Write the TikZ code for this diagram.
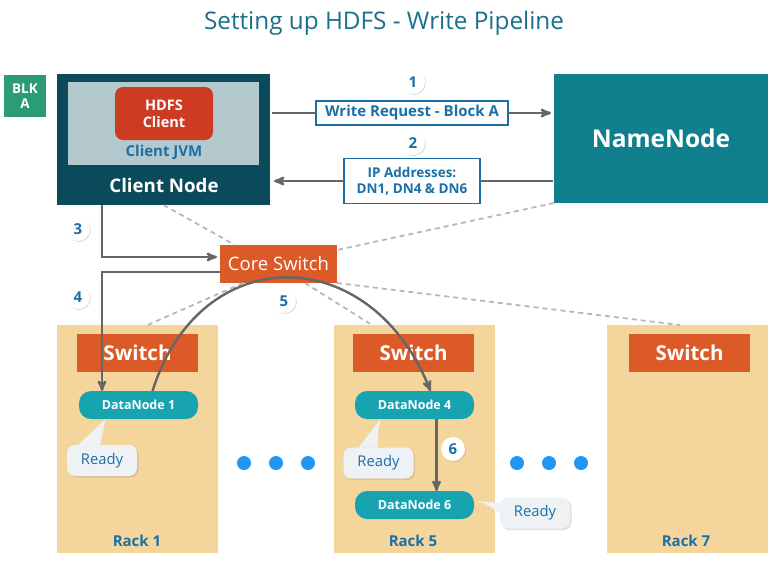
\documentclass[tikz,border=0pt]{standalone}
\usepackage{fontspec}
\setmainfont{Open Sans}
\usetikzlibrary{arrows,shadows}

\definecolor{titleblue}{HTML}{1B6F8C}
\definecolor{clientdark}{HTML}{0B4A5B}
\definecolor{jvmgray}{HTML}{B3C9CD}
\definecolor{hdfsred}{HTML}{CD3B23}
\definecolor{textblue}{HTML}{1A6FA8}
\definecolor{nnteal}{HTML}{0F7F8D}
\definecolor{switchorange}{HTML}{DC5A27}
\definecolor{racksand}{HTML}{F4D69C}
\definecolor{dnteal}{HTML}{17A3B0}
\definecolor{bubblegray}{HTML}{EEF2F4}
\definecolor{dotblue}{HTML}{2196F3}
\definecolor{flowgray}{HTML}{666666}
\definecolor{dashgray}{HTML}{B5B8BA}
\definecolor{blkgreen}{HTML}{2B9B78}

\begin{document}
\begin{tikzpicture}[x=1pt,y=-1pt,>=stealth',
  box/.style={rectangle,inner sep=0pt,outer sep=0pt},
  rack/.style={box,fill=racksand,minimum width=161pt,minimum height=228pt},
  rack switch/.style={box,fill=switchorange,minimum width=121pt,minimum height=38pt,
    text=white,font=\fontsize{20.5}{22}\selectfont\bfseries},
  data node/.style={box,fill=dnteal,minimum width=119pt,minimum height=28pt,rounded corners=12pt,
    text=white,font=\fontsize{12.5}{14}\selectfont\bfseries},
  ready/.style={box,fill=bubblegray,minimum width=70pt,minimum height=31pt,rounded corners=8pt,
    text=textblue,font=\fontsize{14.8}{16}\selectfont,drop shadow={opacity=0.25,shadow xshift=1.5pt,shadow yshift=-1.5pt}},
  step num/.style={circle,fill=white,minimum size=24pt,inner sep=0pt,text=textblue,
    font=\fontsize{15}{16}\selectfont\bfseries,drop shadow={opacity=0.25,shadow xshift=1pt,shadow yshift=-1pt}},
  msg/.style={box,fill=white,draw=textblue,line width=1.3pt,text=textblue,align=center,
    font=\fontsize{13.5}{16.5}\selectfont\bfseries},
  rack label/.style={text=textblue,font=\fontsize{15}{17}\selectfont\bfseries},
  flow/.style={draw=flowgray,line width=2.4pt},
  link/.style={draw=dashgray,line width=1.8pt,dash pattern=on 5pt off 4pt},
  dot/.style={circle,fill=dotblue,minimum size=14pt,inner sep=0pt}]

  \useasboundingbox (0,0) rectangle (768,560);

  \node (title) at (384,23) {\fontsize{24.3}{28}\selectfont\color{titleblue}Setting up HDFS - Write Pipeline};

  % client side
  \node[box,fill=blkgreen,minimum width=42pt,minimum height=42pt,text=white,align=center,
    font=\fontsize{13.5}{15}\selectfont\bfseries] (blk) at (25,96) {BLK\\A};
  \node[box,fill=clientdark,minimum width=213pt,minimum height=131pt] (client) at (163.5,139.5) {};
  \node[box,fill=jvmgray,minimum width=191pt,minimum height=83pt] (jvm) at (163.5,123.5) {};
  \node[box,fill=hdfsred,minimum width=98pt,minimum height=53pt,rounded corners=8pt,text=white,
    align=center,font=\fontsize{14.5}{17}\selectfont\bfseries] (hdfs) at (164,113.5) {HDFS\\Client};
  \node[text=textblue,font=\fontsize{15}{17}\selectfont\bfseries] (jvmlabel) at (164,152) {Client JVM};
  \node[text=white,font=\fontsize{18.7}{21}\selectfont\bfseries] (clientlabel) at (164,185) {Client Node};

  \node[box,fill=nnteal,minimum width=214pt,minimum height=129pt,text=white,
    font=\fontsize{24.5}{27}\selectfont\bfseries] (namenode) at (661,138.5) {NameNode};

  \node[msg,minimum width=192pt,minimum height=24pt,font=\fontsize{15}{17}\selectfont\bfseries] (wreq) at (412,113) {Write Request - Block A};
  \node[msg,minimum width=136pt,minimum height=45pt] (ipaddr) at (412,181) {IP Addresses:\\DN1, DN4 \& DN6};

  \node[box,fill=switchorange,minimum width=117pt,minimum height=38pt,text=white,
    font=\fontsize{18.5}{20}\selectfont] (core) at (278.5,264) {Core Switch};

  % racks
  \node[rack] (rack1) at (137.5,439) {};
  \node[rack] (rack5) at (414,439) {};
  \node[rack] (rack7) at (687,439) {};
  \node[rack switch] (sw1) at (137.5,353) {Switch};
  \node[rack switch] (sw5) at (413.5,353) {Switch};
  \node[rack switch] (sw7) at (689.5,353) {Switch};
  \node[rack label] (rl1) at (137,541) {Rack 1};
  \node[rack label] (rl5) at (413,541) {Rack 5};
  \node[rack label] (rl7) at (686,541) {Rack 7};

  \node[data node] (dn1) at (138.5,405) {DataNode 1};
  \node[data node] (dn4) at (414.5,405) {DataNode 4};
  \node[data node] (dn6) at (414.5,505) {DataNode 6};

  \node[ready] (ready1) at (102,460.5) {Ready};
  \node[ready] (ready4) at (378.5,463) {Ready};
  \node[ready] (ready6) at (535,513) {Ready};
  \fill[bubblegray] ([xshift=-24pt]ready1.north) -- ([xshift=-33pt]dn1.south)
    .. controls (102,432) .. ([xshift=-2pt]ready1.north) -- cycle;
  \fill[bubblegray] ([xshift=-20pt]ready4.north) -- ([xshift=-34pt]dn4.south)
    .. controls (378,432) .. ([xshift=-1pt]ready4.north) -- cycle;
  \fill[bubblegray] ([yshift=10pt]ready6.west) -- ([xshift=4pt,yshift=4pt]dn6.east)
    .. controls (490,506) .. ([yshift=-1pt]ready6.west) -- cycle;

  \foreach \x in {244,276,308,517,549,581}
    \node[dot] (dot\x) at (\x,463) {};

  % network links
  \path[link]
    (client.south) edge ([xshift=15pt]core.north west)
    (namenode.south west) edge ([yshift=-5pt]core.north east)
    ([xshift=23pt]core.south west) edge ([xshift=10pt]rack1.north)
    ([xshift=-32pt]core.south east) edge ([xshift=-42pt]rack5.north)
    (core.south east) edge ([xshift=-7pt]rack7.north);

  % pipeline steps
  \coordinate (t3) at (102,257);
  \coordinate (t4) at (102,272);
  \path[flow]
    ([xshift=2pt]client.east |- wreq) edge (wreq.west)
    (wreq.east) edge[->,shorten >=3pt] (namenode.west |- wreq)
    ([xshift=-1pt]namenode.west |- ipaddr) edge (ipaddr.east)
    (ipaddr.west) edge[->,shorten >=4pt] (client.east |- ipaddr);
  \draw[flow,->,shorten >=3pt] (client.south -| t3) -- (t3) -- (core.west |- t3);
  \draw[flow,->] (core.west |- t4) -- (t4) -- (dn1.north -| t4);
  \draw[flow,->] ([xshift=14pt]dn1.north) .. controls (200,240) and (370,240) .. ([xshift=16pt]dn4.north);
  \draw[flow,->] ([xshift=22pt]dn4.south) -- ([xshift=22pt]dn6.north);

  \node[step num] (s1) at (413,82) {1};
  \node[step num] (s2) at (413,143) {2};
  \node[step num] (s3) at (78,229) {3};
  \node[step num] (s4) at (78,297) {4};
  \node[step num] (s5) at (284,301) {5};
  \node[step num] (s6) at (453,449) {6};

\end{tikzpicture}
\end{document}
